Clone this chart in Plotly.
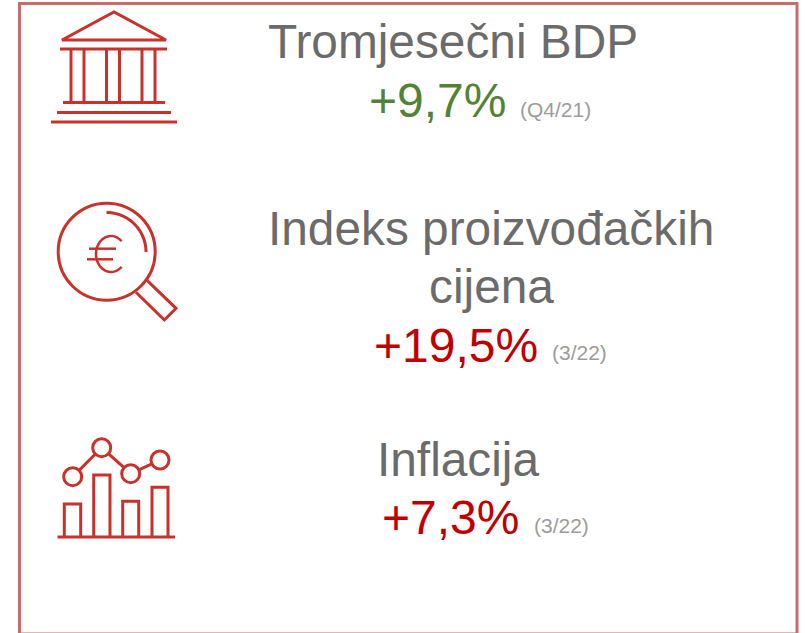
import math
import plotly.graph_objects as go

titles = ["Tromjesečni BDP", "Indeks proizvođačkih", "cijena", "Inflacija"]
title_x = [266, 266, 427, 375]
title_y = [41, 228, 286, 459]
values = ["+9,7%", "+19,5%", "+7,3%"]
value_colors = ["#548235", "#C00000", "#C00000"]
value_x = [367, 372, 380]
value_y = [100, 345, 517]
periods = ["(Q4/21)", "(3/22)", "(3/22)"]
period_x = [518, 550, 532]
period_y = [109, 352, 525]

ICON = "#C8322B"
FRAME = "#CC6B6B"
TITLE = "#6B6B6B"
PERIOD = "#9C9C9C"
FONT = "Liberation Sans"

fig = go.Figure()
shapes = []


def line(x0, y0, x1, y1, w=3):
    shapes.append(dict(type="line", x0=x0, y0=y0, x1=x1, y1=y1, line=dict(color=ICON, width=w)))


def path(d, w=3):
    shapes.append(dict(type="path", path=d, line=dict(color=ICON, width=w)))


def circle(cx, cy, r, w=3):
    shapes.append(dict(type="circle", x0=cx - r, x1=cx + r, y0=cy - r, y1=cy + r,
                       line=dict(color=ICON, width=w)))


def arc(cx, cy, rx, ry, a0, a1, w=3, n=40):
    pts = []
    for i in range(n + 1):
        a = math.radians(a0 + (a1 - a0) * i / n)
        pts.append(f"{cx + rx * math.cos(a):.2f},{cy + ry * math.sin(a):.2f}")
    path("M " + " L ".join(pts), w)


# Frame
shapes.append(dict(type="rect", x0=19.5, y0=3.5, x1=797, y1=634,
                   line=dict(color=FRAME, width=3)))

# Bank icon
path("M 62,40 L 114,12 L 166,40 Z", 3)
line(60, 49, 167, 49, 3)
for cx in (71, 84, 106.5, 119.5, 142, 155):
    line(cx, 49, cx, 102, 3)
line(63, 102.5, 165, 102.5, 3)
line(57, 112.5, 171, 112.5, 3)
line(51, 122, 177, 122, 3)

# Magnifier icon
circle(106.7, 251.7, 48.5, 3)
arc(106.5, 252, 39.5, 39.5, -90, 0, 3)
path("M 147.3,280.7 L 176,308.3 L 164.3,320 L 136,292.3", 3)
arc(111, 254, 15, 18, -45, -315, 2.5)
line(89, 248.7, 116, 248.7, 2.5)
line(87, 259.3, 113, 259.3, 2.5)

# Chart icon
line(57.5, 537, 175, 537, 3)
for x0, x1, top in ((64.3, 80.7, 504), (93.7, 110, 475), (122.7, 138.7, 501.3), (152, 168, 487.3)):
    path(f"M {x0},537 L {x0},{top} L {x1},{top} L {x1},537", 3)
pts = [(72.7, 476.7), (101.7, 447.7), (130.7, 473.7), (160, 460)]
for cx, cy in pts:
    circle(cx, cy, 9, 3)
for (ax, ay), (bx, by) in zip(pts, pts[1:]):
    d = math.hypot(bx - ax, by - ay)
    ux, uy = (bx - ax) / d, (by - ay) / d
    line(ax + ux * 9, ay + uy * 9, bx - ux * 9, by - uy * 9, 3)

annotations = []
for t, x, y in zip(titles, title_x, title_y):
    annotations.append(dict(text=t, x=x, y=y, xref="x", yref="y", xanchor="left", yanchor="middle",
                            showarrow=False, font=dict(family=FONT, size=47.8, color=TITLE)))
for t, c, x, y in zip(values, value_colors, value_x, value_y):
    annotations.append(dict(text=t, x=x, y=y, xref="x", yref="y", xanchor="left", yanchor="middle",
                            showarrow=False, font=dict(family=FONT, size=48, color=c)))
for t, x, y in zip(periods, period_x, period_y):
    annotations.append(dict(text=t, x=x, y=y, xref="x", yref="y", xanchor="left", yanchor="middle",
                            showarrow=False, font=dict(family=FONT, size=21, color=PERIOD)))

fig.update_layout(
    width=805, height=633, margin=dict(l=0, r=0, t=0, b=0),
    paper_bgcolor="white", plot_bgcolor="white", showlegend=False,
    xaxis=dict(range=[0, 805], visible=False, fixedrange=True),
    yaxis=dict(range=[633, 0], visible=False, fixedrange=True),
    shapes=shapes, annotations=annotations,
)
fig.write_html("out.html", config=dict(displayModeBar=False),
               post_script="document.body.style.margin='0';document.body.style.overflow='hidden';")
